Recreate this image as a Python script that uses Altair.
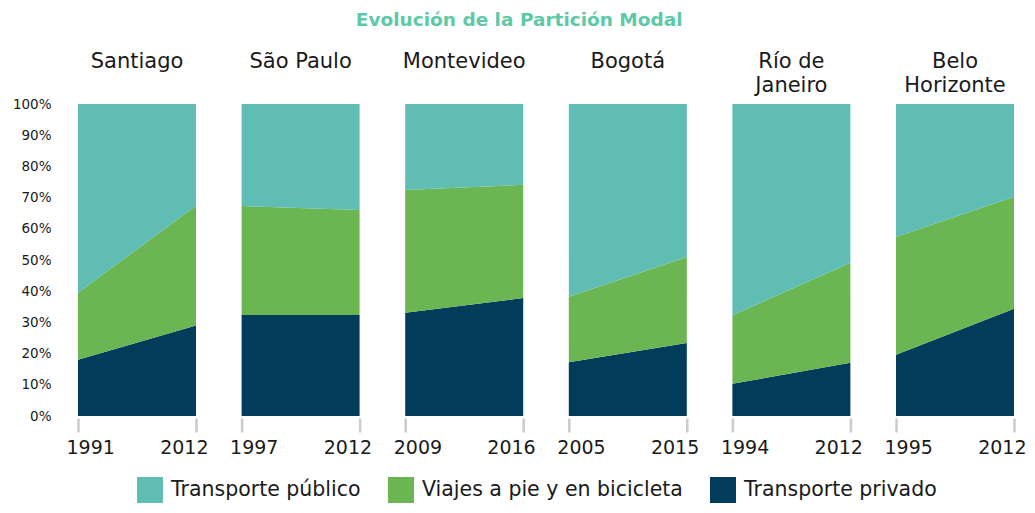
import altair as alt
import pandas as pd

cities = ["Santiago", "São Paulo", "Montevideo", "Bogotá", "Río de Janeiro", "Belo Horizonte"]
city_titles = [["Santiago", " "], ["São Paulo", " "], ["Montevideo", " "], ["Bogotá", " "],
               ["Río de", "Janeiro"], ["Belo", "Horizonte"]]
start_years = [1991, 1997, 2009, 2005, 1994, 1995]
end_years = [2012, 2012, 2016, 2015, 2012, 2012]

privado_start = [18.0, 32.4, 33.1, 17.2, 10.3, 19.6]
privado_end = [29.0, 32.4, 37.8, 23.4, 17.1, 34.4]
pie_start = [21.5, 34.9, 39.3, 21.0, 22.0, 37.8]
pie_end = [38.4, 33.6, 36.3, 27.6, 32.0, 35.9]

modes = ["Transporte público", "Viajes a pie y en bicicleta", "Transporte privado"]
colors = ["#5fbdb3", "#6bb652", "#013c5b"]
stack_order = {"Transporte privado": 0, "Viajes a pie y en bicicleta": 1, "Transporte público": 2}

rows = []
for i, c in enumerate(cities):
    for yr, pv, pe in [(start_years[i], privado_start[i], pie_start[i]),
                       (end_years[i], privado_end[i], pie_end[i])]:
        pu = 100 - pv - pe
        for m, v in [("Transporte privado", pv), ("Viajes a pie y en bicicleta", pe), ("Transporte público", pu)]:
            rows.append({"ciudad": c, "anio": yr, "modo": m, "valor": v, "orden": stack_order[m]})
df = pd.DataFrame(rows)

FONT = "DejaVu Sans"

panels = []
for i, c in enumerate(cities):
    s, e = start_years[i], end_years[i]
    if i == 0:
        yaxis = alt.Axis(values=list(range(0, 101, 10)), labelExpr="datum.value + '%'",
                         ticks=False, domain=False, grid=False, title=None,
                         labelFontSize=13.5, labelPadding=27, labelColor="#1a1a1a", labelFont=FONT)
    else:
        yaxis = None
    ch = alt.Chart(df).transform_filter(alt.datum.ciudad == c).mark_area(opacity=1).encode(
        x=alt.X("anio:Q", scale=alt.Scale(domain=[s, e], nice=False, zero=False),
                axis=alt.Axis(values=[s, e], format="d", title=None, grid=False, domain=False,
                              tickColor="#cccccc", tickWidth=2.5, tickSize=14,
                              offset=2, labelFlush=True, labelFlushOffset=12, labelFontSize=19,
                              labelPadding=6, labelColor="#1a1a1a", labelFont=FONT)),
        y=alt.Y("valor:Q", stack="zero", scale=alt.Scale(domain=[0, 100], nice=False), axis=yaxis),
        color=alt.Color("modo:N", scale=alt.Scale(domain=modes, range=colors),
                        legend=alt.Legend(title=None, orient="none", direction="horizontal",
                                          legendX=59, legendY=373)),
        order=alt.Order("orden:Q"),
    ).properties(
        width=118, height=312,
        title=alt.TitleParams(city_titles[i], fontSize=21, font=FONT, fontWeight="normal",
                              color="#1a1a1a", anchor="middle", lineHeight=24,
                              offset=1 if i == 0 else 8),
    )
    panels.append(ch)

chart = alt.hconcat(*panels, spacing=45.6, bounds="flush").properties(
    padding={"left": 4, "top": 2, "right": 0, "bottom": 0},
    title=alt.TitleParams("Evolución de la Partición Modal", fontSize=18.5, font=FONT,
                          fontWeight="bold", color="#5ec9a7", anchor="middle", offset=22),
).configure_view(stroke=None).configure_legend(
    symbolType="square", symbolSize=676, symbolStrokeWidth=0, labelFontSize=20.5,
    labelFont=FONT, labelColor="#1a1a1a", labelLimit=400, columnPadding=27, labelOffset=8,
    symbolOpacity=1,
)

chart.save("out.html", embed_options={"renderer": "svg", "actions": False})
